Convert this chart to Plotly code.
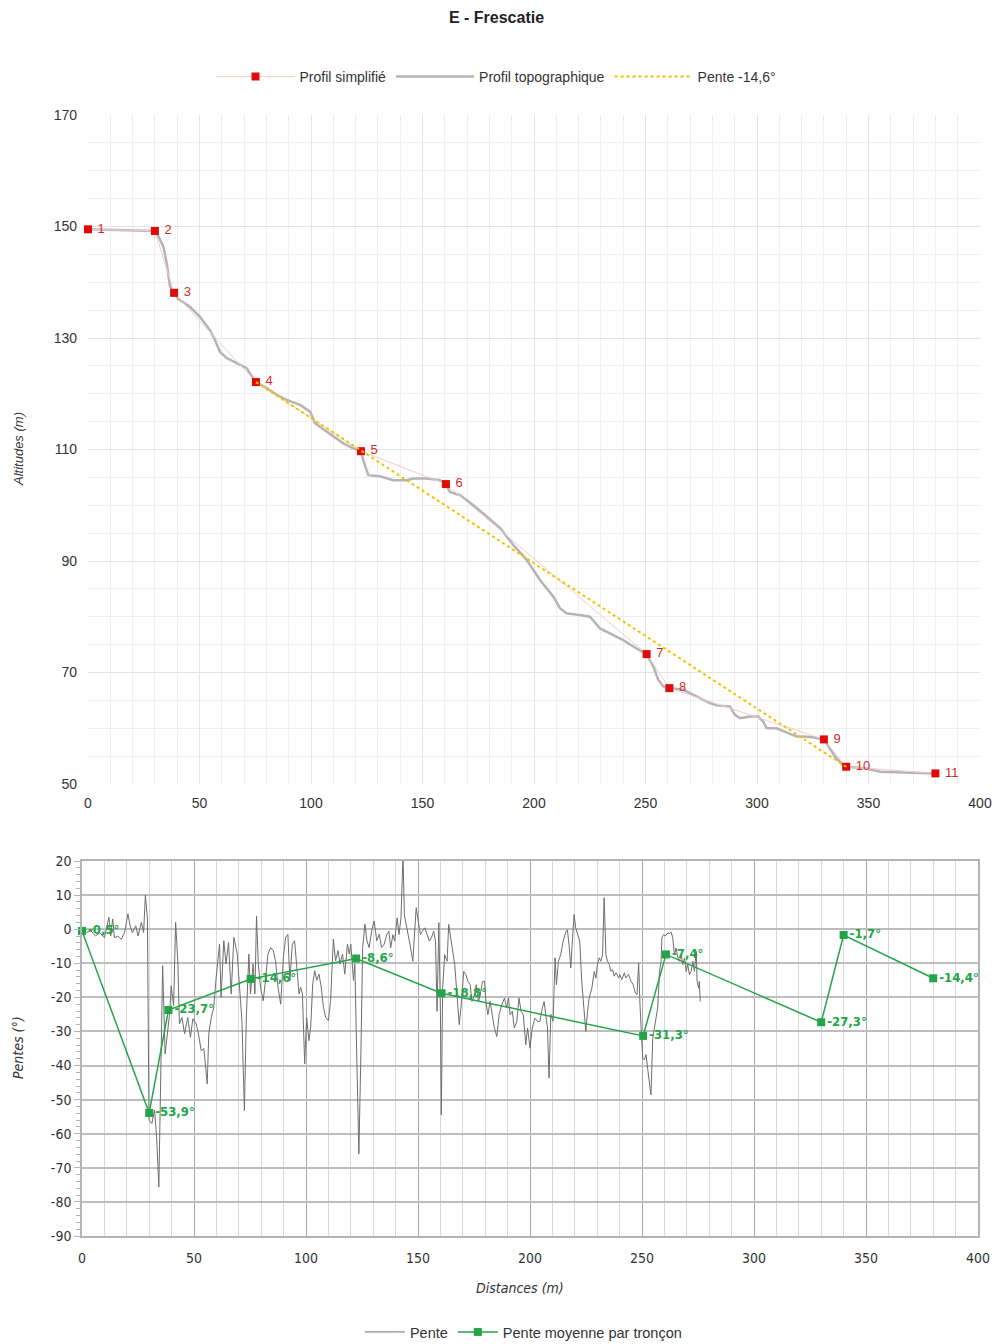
import plotly.graph_objects as go

# ---- Profil simplifié (points numérotés) ----
simple_x = [0, 30, 38.6, 75.3, 122.4, 160.5, 250.5, 260.7, 330, 340, 380]
simple_y = [149.5, 149.2, 138.1, 122.1, 109.7, 103.8, 73.3, 67.2, 58.0, 53.1, 51.9]
simple_lbl = ["1", "2", "3", "4", "5", "6", "7", "8", "9", "10", "11"]

# ---- Profil topographique ----
topo_x = [0, 10, 20, 30, 31.5, 33.8, 35.3, 36.8, 38.6, 40.5, 45.7, 50.2, 54.7, 57.0,
          59.2, 62.2, 66.7, 71.2, 73.0, 75.3, 80.1, 84.6, 89.1, 95.1, 99.6, 101.8,
          106.0, 110.0, 114.5, 119.0, 122.4, 123.5, 125.7, 130.9, 136.9, 142.9, 145.9,
          151.9, 157.8, 160.5, 162.3, 166.8, 172.8, 178.8, 184.8, 190.7, 196.7, 202.7,
          208.7, 211.7, 214.7, 220.6, 225.1, 229.6, 235.6, 240.0, 246.0, 250.5, 253.5,
          255.7, 258.0, 260.7, 266.9, 272.9, 278.9, 281.9, 287.9, 290.1, 292.4, 296.9,
          300.5, 302.8, 304.3, 308.8, 313.3, 317.8, 320.8, 325.0, 330.0, 332.0, 335.0,
          338.0, 340.0, 346.0, 350.0, 355.2, 365.0, 372.0, 380.0]
topo_y = [149.5, 149.4, 149.3, 149.2, 148.3, 146.4, 143.4, 139.2, 138.1, 137.0, 135.6,
          133.8, 131.4, 129.6, 127.5, 126.4, 125.5, 124.6, 123.4, 122.1, 121.0, 119.8,
          118.9, 118.0, 116.8, 114.7, 113.5, 112.3, 111.1, 110.2, 109.7, 108.0, 105.4,
          105.2, 104.5, 104.5, 104.8, 104.8, 104.5, 103.8, 102.4, 101.8, 100.0, 98.0,
          95.9, 92.9, 90.2, 86.6, 83.6, 81.5, 80.6, 80.3, 80.0, 77.9, 76.7, 75.8, 74.3,
          73.3, 71.1, 68.7, 67.5, 67.2, 66.9, 65.7, 64.5, 64.1, 63.9, 62.4, 61.8, 62.1,
          62.1, 61.2, 60.0, 60.0, 59.2, 58.5, 58.5, 58.4, 58.0, 56.8, 54.9, 53.6, 53.1,
          52.9, 52.7, 52.2, 52.1, 52.0, 51.9]

# ---- Pente globale -14,6° (du point 4 au point 10) ----
slope_x = [75.3, 340]
slope_y = [122.1, 53.1]

# ---- Pente moyenne par tronçon ----
seg_x = [0, 30, 38.6, 75.3, 122.4, 160.5, 250.5, 260.7, 330, 340, 380]
seg_y = [-0.5, -53.9, -23.7, -14.6, -8.6, -18.8, -31.3, -7.4, -27.3, -1.7, -14.4]

# ---- Pente (profil topographique) ----
pente_x = [0, 2, 4, 6, 8, 10, 12, 12.8, 13.7, 14.5, 16, 17.5, 19, 20.5, 21.5, 22.5, 24,
           25, 26.5, 27.5, 28.3, 29.2, 29.9, 31.2, 32.4, 33.3, 34.3, 35.2, 36.0, 37.1,
           38.3, 39.1, 39.8, 40.9, 41.8, 42.8, 43.5, 44.6, 45.8, 47.2, 48.4, 49.5, 51.0,
           52.0, 53.2, 54.4, 55.9, 56.6, 57.7, 58.8, 59.9, 61.4, 62.1, 63.3, 64.3, 65.4,
           66.6, 67.8, 69.3, 70.4, 71.4, 72.5, 73.4, 74.5, 75.2, 76.4, 77.2, 77.9, 78.7,
           79.7, 80.9, 81.9, 83.0, 84.2, 85.4, 86.4, 87.5, 88.7, 89.9, 90.9, 91.9, 92.8,
           93.9, 94.9, 95.8, 96.9, 97.6, 98.4, 99.4, 100.3, 101.3, 102.1, 103.0, 103.9,
           104.8, 105.8, 106.8, 107.8, 108.8, 110.0, 111.0, 112.2, 113.2, 114.3, 115.2,
           116.3, 117.3, 118.5, 119.3, 120.0, 121.2, 121.8, 122.7, 123.6, 124.5, 125.3,
           126.3, 127.2, 128.2, 129.3, 130.4, 131.6, 132.7, 133.7, 134.9, 136.1, 137.0,
           137.8, 138.8, 139.6, 140.7, 141.5, 142.4, 143.3, 143.9, 144.8, 145.7, 146.7,
           147.7, 148.6, 149.2, 150.1, 151.1, 151.9, 153.0, 154.1, 155.1, 156.0, 157.0,
           157.8, 158.5, 159.3, 160.0, 160.4, 161.0, 161.9, 163.0, 163.7, 164.4, 165.5,
           166.4, 167.4, 168.4, 169.3, 170.4, 171.4, 172.3, 173.3, 174.1, 175.3, 176.0,
           177.0, 177.8, 178.8, 179.7, 180.3, 181.2, 182.2, 183.3, 184.1, 185.2, 186.2,
           187.4, 188.6, 189.6, 190.4, 191.1, 192.1, 193.0, 194.1, 195.1, 196.0, 197.0,
           198.1, 198.9, 200.0, 201.0, 202.2, 203.4, 204.4, 205.5, 206.3, 207.0, 207.8,
           208.5, 209.3, 210.3, 211.2, 211.8, 212.7, 213.7, 214.8, 216.0, 216.7, 217.5,
           218.2, 219.0, 219.7, 220.4, 221.2, 222.2, 223.1, 224.2, 224.9, 225.7, 226.4,
           227.6, 228.7, 229.4, 230.1, 230.9, 231.6, 232.4, 233.1, 233.9, 234.6, 235.4,
           236.1, 236.9, 237.6, 238.4, 239.6, 240.1, 241.0, 242.1, 242.8, 244.0, 245.1,
           246.1, 247.0, 247.8, 248.5, 249.1, 249.7, 250.3, 251.0, 251.8, 252.5, 253.3,
           254.0, 254.8, 255.5, 256.3, 257.0, 257.8, 258.5, 258.9, 259.6, 260.4, 261.5,
           262.2, 263.0, 263.7, 264.5, 265.2, 266.0, 266.7, 267.5, 268.2, 269.0, 269.7,
           270.4, 271.2, 271.9, 272.7, 273.4, 274.2, 274.6, 275.3, 275.6, 276.0]
pente_y = [-0.5, -1, -0.5, -2, -1, -2.5, 3.5, -2, 3, -2.5, -2, -3, -1, 4.5, 1, -1, 1,
           -2, 2, -1, 10, 3, -56, -57, -53, -61, -75.6, -40, -10.7, -36.6, -29.8, -24.9,
           -16.6, -22.4, 2, -10, -27.8, -25.9, -30.7, -25.9, -31.7, -26.3, -27.8, -30.7,
           -35.6, -35, -45.4, -30.7, -25.9, -23, -14.1, -4.4, -20, -3.4, -10.2, -3.9, -19,
           -2.4, -7.3, -19, -27, -53.2, -24.9, -7.3, -19, -10.2, -19, 3.9, -10.2, -17, -21,
           -15.1, -7.3, -5.4, -6.3, -9.3, -17, -22, -8.3, -2.4, -1.5, -15.1, -4.4, -3.4,
           -10.2, -19, -17, -19, -39.5, -25.9, -32.7, -28.8, -16, -12.2, -15, -13.2, -17,
           -23, -25.9, -26.8, -21, -2.9, -9.3, -6.3, -10.2, -7.3, -13.2, -4.4, -7.3, -4.4,
           -15, -10.2, -38.5, -65.9, -36.6, -5.4, 1.5, -3.4, -5.4, -0.5, 2.4, -3.4, -1.5,
           -5.4, -4.4, -1.5, -0.6, -5.5, -1.6, -3.5, 3.3, -1.6, 3.3, 22, 4.3, 1.4, -2.5,
           -5.5, -9.4, -0.6, 6.3, 2.4, -1.6, -0.6, 0.4, -1.6, -3.5, -2.5, -0.6, -3.5,
           -24.1, 1.9, -24.1, -54.5, -17.3, -7.5, -9.4, 1.4, -1.6, -7.5, -10.4, -19.2, -28,
           -22.2, -12.4, -13.3, -15.3, -16.3, -21.2, -19.2, -16.3, -21.2, -19.2, -15.3,
           -15.3, -21.2, -25.1, -21.2, -25.1, -29, -31.5, -25.1, -22.2, -20.2, -23.1,
           -20.2, -25.1, -24.1, -29, -27.1, -20.2, -24.1, -25.1, -33.9, -29, -34.9, -29,
           -26.1, -27.1, -27.1, -23.1, -21.2, -25, -29, -43.7, -25, -27, -8.4, -16.3,
           -9.4, -7.5, -3.5, -0.8, -0.2, -5, -11.4, -2.5, 4.3, 0.4, -1.6, -3.5, -15.3,
           -24.1, -30, -24.1, -20.2, -17.3, -12.4, -14.3, -10.4, -8.4, -9.4, -7.5, 9.2,
           -7.5, -9.4, -10.4, -12.4, -11.9, -13.8, -12.8, -14.3, -13.3, -14.8, -12.8,
           -14.3, -13.3, -15.3, -16.3, -18.7, -19.2, -9.9, -22.2, -31, -37.8, -38.3, -36.8,
           -40.8, -44.7, -48.6, -32, -29, -25.1, -23.1, -12.4, -9.4, -2.5, -1.6, -2.0,
           -1.1, -1.3, -0.8, -2.5, -7.5, -5.5, -8.4, -9.4, -7.5, -10.4, -8.4, -12.4,
           -10.4, -13.3, -12.4, -9.4, -12.4, -6.5, -15.3, -17.3, -15.3, -21.2]

# ---- Graduations ----
alt_ticks = [50, 70, 90, 110, 130, 150, 170]
dist_ticks = [0, 50, 100, 150, 200, 250, 300, 350, 400]
pente_ticks = [20, 10, 0, -10, -20, -30, -40, -50, -60, -70, -80, -90]
pente_tick_text = ["20", "10", "0", "-10", "-20", "-30", "-40", "-50", "-60", "-70",
                   "-80", "-90"]

FONT = "Liberation Sans, Arial, sans-serif"
NARROW = "Liberation Sans Narrow, DejaVu Sans Condensed, Liberation Sans, sans-serif"
RED = "#e00a0a"
GREEN = "#22a548"

seg_lbl = [("%.1f" % v).replace(".", ",") + "°" for v in seg_y]

fig = go.Figure()

# --- Graphique du haut : altitudes ---
fig.add_trace(go.Scatter(
    x=topo_x, y=topo_y, mode="lines", name="Profil topographique",
    line=dict(color="#b4b4b4", width=2.5), xaxis="x", yaxis="y",
    legend="legend", legendrank=2))
fig.add_trace(go.Scatter(
    x=simple_x, y=simple_y, mode="lines+markers+text", name="Profil simplifié",
    line=dict(color="#f2cccc", width=1),
    marker=dict(symbol="square", size=8, color=RED),
    text=[" " + t for t in simple_lbl], textposition="middle right",
    textfont=dict(color="#d62a2a", size=13, family=FONT),
    cliponaxis=False,
    xaxis="x", yaxis="y", legend="legend", legendrank=1))
fig.add_trace(go.Scatter(
    x=slope_x, y=slope_y, mode="lines", name="Pente -14,6°",
    line=dict(color="#f2c200", width=2, dash="dot"),
    xaxis="x", yaxis="y", legend="legend", legendrank=3))

# --- Graphique du bas : pentes ---
fig.add_trace(go.Scatter(
    x=pente_x, y=pente_y, mode="lines", name="Pente",
    line=dict(color="#6e6e6e", width=1),
    xaxis="x2", yaxis="y2", legend="legend2", legendrank=1))
fig.add_trace(go.Scatter(
    x=seg_x, y=seg_y, mode="lines+markers+text", name="Pente moyenne par tronçon",
    line=dict(color=GREEN, width=1.5),
    marker=dict(symbol="square", size=8, color=GREEN),
    text=seg_lbl, textposition="middle right",
    textfont=dict(color=GREEN, size=13, family=NARROW, weight="bold"),
    cliponaxis=False,
    xaxis="x2", yaxis="y2", legend="legend2", legendrank=2))

axis_font = dict(family=FONT, size=14, color="#333333")

fig.update_layout(
    width=997, height=1344, autosize=False,
    margin=dict(l=0, r=0, t=0, b=0, autoexpand=False),
    paper_bgcolor="white", plot_bgcolor="white",
    font=dict(family=FONT, color="#333333"),
    title=dict(text="<b>E - Frescatie</b>", x=0.498, xanchor="center",
               y=1 - 17 / 1344, yanchor="middle",
               font=dict(family=FONT, size=16, color="#222222")),
    showlegend=True,
    legend=dict(orientation="h", x=0.498, xanchor="center", y=1 - 77 / 1344,
                yanchor="middle", itemwidth=78,
                font=dict(family=FONT, size=14, color="#333333"),
                bgcolor="rgba(0,0,0,0)"),
    legend2=dict(orientation="h", x=0.525, xanchor="center", y=1 - 1332 / 1344,
                 yanchor="middle", itemwidth=40,
                 font=dict(family=FONT, size=14.5, color="#333333"),
                 bgcolor="rgba(0,0,0,0)"),
    xaxis=dict(domain=[88 / 997, 980 / 997], range=[0, 400],
               tickmode="array", tickvals=dist_ticks,
               showgrid=True, gridcolor="#e4e4e4", gridwidth=1,
               minor=dict(dtick=10, tick0=0, showgrid=True, gridcolor="#efefef"),
               zeroline=False, showline=False, ticks="", automargin=False,
               ticklabelstandoff=9,
               tickfont=axis_font, anchor="y"),
    yaxis=dict(domain=[1 - 784 / 1344, 1 - 115 / 1344], range=[50, 170],
               tickmode="array", tickvals=alt_ticks,
               showgrid=True, gridcolor="#e4e4e4", gridwidth=1,
               minor=dict(dtick=5, tick0=50, showgrid=True, gridcolor="#efefef"),
               zeroline=False, showline=False, ticks="", automargin=False,
               ticklabelstandoff=10,
               tickfont=axis_font, anchor="x"),
    xaxis2=dict(domain=[82 / 997, 978 / 997], range=[0, 400],
                tickmode="array", tickvals=dist_ticks,
                showgrid=True, gridcolor="#a8a8a8", gridwidth=1,
                minor=dict(dtick=10, tick0=0, showgrid=True, gridcolor="#d8d8d8"),
                zeroline=False, showline=True, linecolor="#b4b4b4", linewidth=1.5,
                mirror=True, ticks="", automargin=False,
                ticklabelstandoff=8,
                tickfont=dict(family=NARROW, size=14, color="#333333"), anchor="y2"),
    yaxis2=dict(domain=[1 - 1236 / 1344, 1 - 861 / 1344], range=[-90, 20],
                tickmode="array", tickvals=pente_ticks, ticktext=pente_tick_text,
                showgrid=True, gridcolor="#bdbdbd", gridwidth=2,
                minor=dict(dtick=2, tick0=0, ticks="outside", ticklen=4,
                           tickcolor="#b4b4b4", showgrid=False),
                zeroline=False, showline=True, linecolor="#b4b4b4", linewidth=1.5,
                mirror=True, ticks="outside", ticklen=6, tickcolor="#b4b4b4",
                automargin=False,
                tickfont=dict(family=NARROW, size=14, color="#333333"), anchor="x2"),
    annotations=[
        dict(text="<i>Altitudes (m)</i>", x=18 / 997, y=1 - 449 / 1344,
             xref="paper", yref="paper", textangle=-90, showarrow=False,
             xanchor="center", yanchor="middle",
             font=dict(family=FONT, size=13, color="#333333")),
        dict(text="<i>Pentes (°)</i>", x=18 / 997, y=1 - 1048 / 1344,
             xref="paper", yref="paper", textangle=-90, showarrow=False,
             xanchor="center", yanchor="middle",
             font=dict(family=NARROW, size=14, color="#333333")),
        dict(text="<i>Distances (m)</i>", x=520 / 997, y=1 - 1288 / 1344,
             xref="paper", yref="paper", showarrow=False,
             xanchor="center", yanchor="middle",
             font=dict(family=NARROW, size=14, color="#333333")),
    ],
)

fig.write_html("out.html")
